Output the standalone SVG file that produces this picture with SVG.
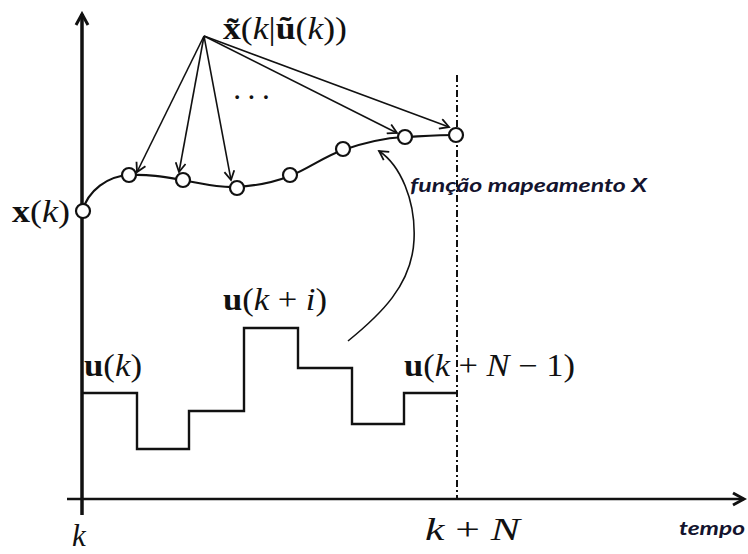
<svg xmlns="http://www.w3.org/2000/svg" width="748" height="554" viewBox="0 0 748 554">
<style>
.m{font-family:"Liberation Serif","DejaVu Serif",serif;font-size:31px;fill:#111}
.b{font-weight:bold}
.i{font-style:italic}
.lbl{font-family:Lato,"Open Sans",sans-serif;font-weight:bold;font-style:italic;fill:#14142e}
.ln{fill:none;stroke:#111;stroke-width:1.6}
.pt{fill:#fff;stroke:#111;stroke-width:2.2}
</style>
<defs>
<marker id="ah" markerWidth="12" markerHeight="12" refX="10" refY="6" orient="auto" markerUnits="userSpaceOnUse">
<path d="M1,1 L10,6 L1,11" fill="none" stroke="#111" stroke-width="1.8"/>
</marker>
<marker id="axh" markerWidth="16" markerHeight="16" refX="13" refY="8" orient="auto" markerUnits="userSpaceOnUse">
<path d="M2,2 L13,8 L2,14" fill="none" stroke="#111" stroke-width="3"/>
</marker>
</defs>
<rect width="748" height="554" fill="#fff"/>
<g id="axes">
<line x1="82" y1="515" x2="82" y2="14" stroke="#111" stroke-width="3.5" marker-end="url(#axh)"/>
<line x1="67" y1="499" x2="744" y2="499" stroke="#111" stroke-width="2.6" marker-end="url(#axh)"/>
<line x1="457" y1="75" x2="457" y2="499" stroke="#111" stroke-width="2" stroke-dasharray="7,3,2,3"/>
</g>
<g id="connectors">
<line class="ln" x1="204" y1="36" x2="137" y2="172" marker-end="url(#ah)"/>
<line class="ln" x1="204" y1="36" x2="179" y2="172" marker-end="url(#ah)"/>
<line class="ln" x1="204" y1="36" x2="231" y2="180" marker-end="url(#ah)"/>
<line class="ln" x1="204" y1="36" x2="397" y2="133" marker-end="url(#ah)"/>
<line class="ln" x1="204" y1="36" x2="449" y2="127" marker-end="url(#ah)"/>
<path class="ln" d="M348,341 C380,315 412,285 414,240 C416,200 400,165 379,151" marker-end="url(#ah)"/>
</g>
<g id="trajectory">
<path fill="none" stroke="#111" stroke-width="2.2" d="M82,212 C88,190 108,176 129,175 C150,174 165,177 182,180 C200,183 218,188 236,187 C255,186 272,183 290,176 C308,169 325,156 343,150 C363,143 385,138 404,137 C425,136 440,135 456,135"/>
<circle class="pt" cx="83" cy="211" r="7"/>
<circle class="pt" cx="129" cy="175" r="7"/>
<circle class="pt" cx="183" cy="180" r="7"/>
<circle class="pt" cx="237" cy="188" r="7"/>
<circle class="pt" cx="290" cy="175" r="7"/>
<circle class="pt" cx="343" cy="149" r="7"/>
<circle class="pt" cx="405" cy="137" r="7"/>
<circle class="pt" cx="456" cy="135" r="7"/>
</g>
<g id="input">
<path fill="none" stroke="#111" stroke-width="2.4" d="M82,393 H137 V449 H189 V411 H244 V328 H298 V368 H352 V424 H404 V393 H457"/>
</g>
<g id="labels">
<text class="m" x="223" y="39" textLength="124" lengthAdjust="spacingAndGlyphs"><tspan class="b">x̃</tspan>(<tspan class="i">k</tspan>|<tspan class="b">ũ</tspan>(<tspan class="i">k</tspan>))</text>
<text class="m" x="232" y="108" font-size="20" letter-spacing="4">···</text>
<text class="m" x="12" y="222" textLength="58" lengthAdjust="spacingAndGlyphs"><tspan class="b">x</tspan>(<tspan class="i">k</tspan>)</text>
<text class="m" x="84" y="376" textLength="58" lengthAdjust="spacingAndGlyphs"><tspan class="b">u</tspan>(<tspan class="i">k</tspan>)</text>
<text class="m" x="223" y="310" textLength="104" lengthAdjust="spacingAndGlyphs"><tspan class="b">u</tspan>(<tspan class="i">k</tspan> + <tspan class="i">i</tspan>)</text>
<text class="m" x="404" y="376" textLength="171" lengthAdjust="spacingAndGlyphs"><tspan class="b">u</tspan>(<tspan class="i">k</tspan> + <tspan class="i">N</tspan> − 1)</text>
<text class="m" x="72" y="546"><tspan class="i">k</tspan></text>
<text class="m" x="425" y="540" textLength="95" lengthAdjust="spacingAndGlyphs"><tspan class="i">k</tspan> + <tspan class="i">N</tspan></text>
<text class="lbl" x="410" y="192" font-size="19" textLength="237" lengthAdjust="spacingAndGlyphs">função mapeamento X</text>
<text class="lbl" x="679" y="535" font-size="18" textLength="66" lengthAdjust="spacingAndGlyphs">tempo</text>
</g>
</svg>
